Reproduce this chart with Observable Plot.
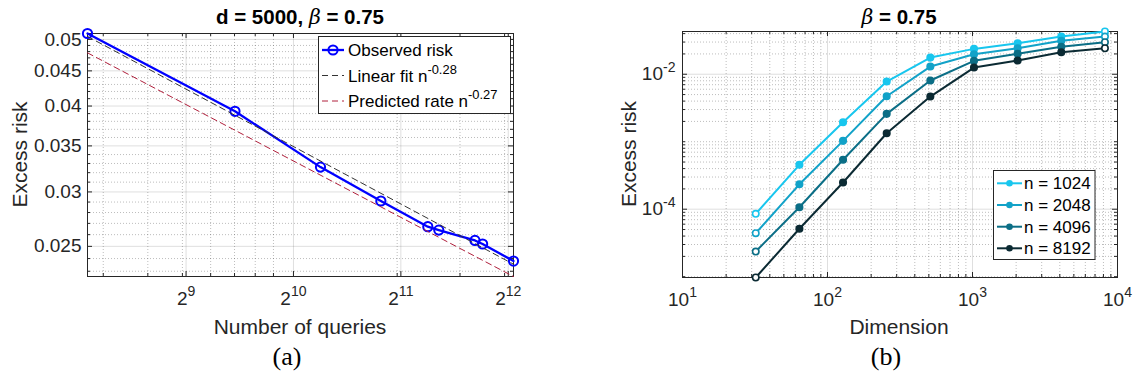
<!DOCTYPE html>
<html><head><meta charset="utf-8">
<script src="https://cdn.jsdelivr.net/npm/d3@7"></script>
<script src="https://cdn.jsdelivr.net/npm/@observablehq/plot@0.6"></script>
<style>
body{margin:0;background:#fff;}
#wrap{position:relative;width:1136px;height:381px;overflow:hidden;font-family:"Liberation Sans",Arial,sans-serif;}
#wrap > svg{position:absolute;top:0;}
#overlay{position:absolute;left:0;top:0;pointer-events:none;}
</style></head>
<body><div id="wrap"></div>
<script>
// ---------- Panel (a) data ----------
const queries = [271, 702, 1219, 1800, 2437, 2616, 3304, 3471, 4237];
const observedRisk = [0.0510, 0.0393, 0.0326, 0.0291, 0.0267, 0.0264, 0.0255, 0.0252, 0.0238];
const fitQueries = [271, 4237];
const linearFitRisk = [0.0505, 0.02355];
const predictedRisk = [0.0478, 0.0226];
const queryTicks = [512, 1024, 2048, 4096];
const queryTickLabels = ["2^9", "2^10", "2^11", "2^12"];
const queryMinorTicks = [300, 400, 500, 600, 700, 800, 900, 2000, 3000, 4000];
const riskTicks = [0.025, 0.03, 0.035, 0.04, 0.045, 0.05];
const riskTickLabels = ["0.025", "0.03", "0.035", "0.04", "0.045", "0.05"];

// ---------- Panel (b) data ----------
const dims = [32, 64, 128, 256, 512, 1024, 2048, 4096, 8192];
const nValues = [1024, 2048, 4096, 8192];
const risk1024 = [8.55e-5, 4.55e-4, 1.945e-3, 7.8e-3, 0.01766, 0.02376, 0.02877, 0.0362, 0.0430];
const risk2048 = [4.41e-5, 2.34e-4, 1.03e-3, 4.72e-3, 0.0130, 0.01977, 0.02427, 0.03126, 0.0362];
const risk4096 = [2.36e-5, 1.07e-4, 5.40e-4, 2.59e-3, 8.07e-3, 0.0158, 0.02005, 0.02547, 0.02978];
const risk8192 = [9.73e-6, 5.13e-5, 2.49e-4, 1.337e-3, 4.67e-3, 0.01256, 0.01596, 0.0212, 0.02426];
const seriesColors = ["#18c6ee", "#12a2c8", "#0b6e86", "#0b2a33"];
const dimTicks = [10, 100, 1000, 10000];
const dimTickLabels = ["10^1", "10^2", "10^3", "10^4"];
const excessTicks = [1e-4, 1e-2];
const excessTickLabels = ["10^-4", "10^-2"];

const frameColor = "#262626";
const ns = "http://www.w3.org/2000/svg";

function labeler(ticks, labels) {
  return d => {
    const i = ticks.findIndex(t => Math.abs(t - d) / t < 1e-6);
    return i < 0 ? "" : labels[i];
  };
}

function superscriptTicks(svg) {
  svg.querySelectorAll('g[aria-label$="tick label"] text').forEach(t => {
    const s = t.textContent; const k = s.indexOf("^");
    if (k < 0) return;
    t.textContent = "";
    const a = document.createElementNS(ns, "tspan"); a.textContent = s.slice(0, k);
    const b = document.createElementNS(ns, "tspan"); b.textContent = s.slice(k + 1);
    b.setAttribute("font-size", "0.74em"); b.setAttribute("dy", "-0.62em");
    t.append(a, b);
  });
}

function tickMarks(xMajor, xMinor, yMajor, yMinor, innerW, innerH) {
  const st = {stroke: frameColor, strokeWidth: 1};
  return [
    Plot.ruleX(xMajor, {x: d => d, insetTop: innerH - 5, ...st}),
    Plot.ruleX(xMajor, {x: d => d, insetBottom: innerH - 5, ...st}),
    Plot.ruleX(xMinor, {x: d => d, insetTop: innerH - 3, ...st}),
    Plot.ruleX(xMinor, {x: d => d, insetBottom: innerH - 3, ...st}),
    Plot.ruleY(yMajor, {y: d => d, insetRight: innerW - 5, ...st}),
    Plot.ruleY(yMajor, {y: d => d, insetLeft: innerW - 5, ...st}),
    Plot.ruleY(yMinor, {y: d => d, insetRight: innerW - 3, ...st}),
    Plot.ruleY(yMinor, {y: d => d, insetLeft: innerW - 3, ...st})
  ];
}

const wrap = document.getElementById("wrap");

// ---------- Panel (a) ----------
{
  const W = 568, H = 381, mL = 87, mR = 55, mT = 33, mB = 105;
  const innerW = W - mL - mR, innerH = H - mT - mB;
  const obs = queries.map((q, i) => ({q, r: observedRisk[i]}));
  const fit = fitQueries.map((q, i) => ({q, r: linearFitRisk[i]}));
  const pred = fitQueries.map((q, i) => ({q, r: predictedRisk[i]}));
  const allR = [...observedRisk, ...linearFitRisk, ...predictedRisk];
  const yDom = d3.extent(allR);
  const riskMinor = d3.range(20, 56).map(v => v / 1000).filter(v => v >= yDom[0] && v <= yDom[1] && !riskTicks.some(t => Math.abs(t - v) < 1e-9));
  const riskLabel = labeler(riskTicks, riskTickLabels);
  const p = Plot.plot({
    width: W, height: H, marginLeft: mL, marginRight: mR, marginTop: mT, marginBottom: mB,
    style: {fontFamily: "Liberation Sans, Arial, sans-serif", color: frameColor, background: "transparent"},
    x: {type: "log", base: 2, domain: d3.extent(queries), label: null},
    y: {type: "log", domain: yDom, label: null, axis: null},
    marks: [
      Plot.gridX(queryMinorTicks, {stroke: "#262626", strokeOpacity: 0.3, strokeDasharray: "1,2"}),
      Plot.gridY(riskMinor, {stroke: "#262626", strokeOpacity: 0.3, strokeDasharray: "1,2"}),
      Plot.gridX(queryTicks, {stroke: "#262626", strokeOpacity: 0.15}),
      Plot.gridY(riskTicks, {stroke: "#262626", strokeOpacity: 0.15}),
      Plot.axisX(queryTicks, {anchor: "bottom", label: null, tickSize: 0, tickPadding: 15, fontSize: 19, tickFormat: labeler(queryTicks, queryTickLabels)}),
      Plot.text(riskTicks, {y: d => d, text: d => riskLabel(d), frameAnchor: "left", textAnchor: "end", dx: -6, fontSize: 19, fill: frameColor}),
      ...tickMarks(queryTicks, queryMinorTicks, riskTicks, riskMinor, innerW, innerH),
      Plot.frame({stroke: frameColor}),
      Plot.line(obs, {x: "q", y: "r", stroke: "#0000ff", strokeWidth: 2.3}),
      Plot.dot(obs, {x: "q", y: "r", r: 4.6, stroke: "#0000ff", strokeWidth: 2, fill: "none"}),
      Plot.line(fit, {x: "q", y: "r", stroke: "#333", strokeWidth: 1, strokeDasharray: "6,4"}),
      Plot.line(pred, {x: "q", y: "r", stroke: "#b0203c", strokeWidth: 1, strokeDasharray: "6,4"})
    ]
  });
  superscriptTicks(p);
  p.style.left = "0px";
  wrap.appendChild(p);
}

// ---------- Panel (b) ----------
const seriesRisks = [risk1024, risk2048, risk4096, risk8192];
{
  const W = 568, H = 381, mL = 114, mR = 19, mT = 31, mB = 104;
  const innerW = W - mL - mR, innerH = H - mT - mB;
  const rows = [];
  nValues.forEach((n, s) => dims.forEach((d, i) => rows.push({n: `n = ${n}`, s, d, r: seriesRisks[s][i], i})));
  const yDom = d3.extent(rows, r => r.r);
  const xMinor = [];
  [10, 100, 1000].forEach(b => { for (let m = 2; m <= 9; m++) xMinor.push(m * b); });
  const yMinor = [];
  for (let e = -6; e <= -1; e++) for (let m = 1; m <= 9; m++) {
    const v = m * Math.pow(10, e);
    if (v >= yDom[0] && v <= yDom[1] && !excessTicks.some(t => Math.abs(t - v) / t < 1e-9)) yMinor.push(v);
  }
  const color = {domain: nValues.map(n => `n = ${n}`), range: seriesColors};
  const p = Plot.plot({
    width: W, height: H, marginLeft: mL, marginRight: mR, marginTop: mT, marginBottom: mB,
    style: {fontFamily: "Liberation Sans, Arial, sans-serif", color: frameColor, background: "transparent"},
    x: {type: "log", domain: [10, 10000], label: null},
    y: {type: "log", domain: yDom, label: null},
    color,
    marks: [
      Plot.gridX(xMinor, {stroke: "#262626", strokeOpacity: 0.3, strokeDasharray: "1,2"}),
      Plot.gridY(yMinor, {stroke: "#262626", strokeOpacity: 0.3, strokeDasharray: "1,2"}),
      Plot.gridX(dimTicks, {stroke: "#262626", strokeOpacity: 0.15}),
      Plot.gridY(excessTicks, {stroke: "#262626", strokeOpacity: 0.15}),
      Plot.axisX(dimTicks, {anchor: "bottom", label: null, tickSize: 0, tickPadding: 15, fontSize: 19, tickFormat: labeler(dimTicks, dimTickLabels)}),
      Plot.axisY(excessTicks, {anchor: "left", label: null, tickSize: 0, tickPadding: 7, fontSize: 19, tickFormat: labeler(excessTicks, excessTickLabels)}),
      ...tickMarks(dimTicks, xMinor, excessTicks, yMinor, innerW, innerH),
      Plot.frame({stroke: frameColor}),
      Plot.line(rows, {x: "d", y: "r", z: "n", stroke: "n", strokeWidth: 2}),
      Plot.dot(rows.filter(r => r.i > 0 && r.i < dims.length - 1), {x: "d", y: "r", fill: "n", stroke: "n", r: 3.3}),
      Plot.dot(rows.filter(r => r.i === 0 || r.i === dims.length - 1), {x: "d", y: "r", fill: "#ffffff", stroke: "n", strokeWidth: 1.6, r: 3.2})
    ]
  });
  superscriptTicks(p);
  p.style.left = "568px";
  wrap.appendChild(p);
}

// ---------- Text, titles, legends overlay ----------
const ov = d3.select(wrap).append("svg").attr("id", "overlay").attr("width", 1136).attr("height", 381)
  .attr("font-family", "Liberation Sans, Arial, sans-serif");

function txt(x, yc, size, content, opts = {}) {
  const t = ov.append("text").attr("x", x).attr("y", yc + 0.36 * size).attr("font-size", size)
    .attr("text-anchor", opts.anchor || "middle").attr("fill", opts.fill || "#000");
  if (content) t.text(content);
  if (opts.bold) t.attr("font-weight", "bold");
  if (opts.family) t.attr("font-family", opts.family);
  if (opts.rotate) t.attr("transform", `rotate(-90 ${x} ${yc})`);
  return t;
}

// titles
{
  const t = txt(300, 17, 20.5, "", {bold: true});
  t.append("tspan").text("d = 5000, ");
  t.append("tspan").attr("font-family", "DejaVu Serif, serif").attr("font-style", "italic").attr("font-weight", "normal").text("β");
  t.append("tspan").text(" = 0.75");
  const t2 = txt(899, 17, 20.5, "", {bold: true});
  t2.append("tspan").attr("font-family", "DejaVu Serif, serif").attr("font-style", "italic").attr("font-weight", "normal").text("β");
  t2.append("tspan").text(" = 0.75");
}
// axis labels
txt(19, 154.5, 21, "Excess risk", {rotate: true, fill: frameColor});
txt(628, 154, 21, "Excess risk", {rotate: true, fill: frameColor});
txt(300, 326, 21, "Number of queries", {fill: frameColor});
txt(899, 326, 21, "Dimension", {fill: frameColor});
// captions
txt(287, 356, 26, "(a)", {family: "Liberation Serif, serif"});
txt(886, 356, 26, "(b)", {family: "Liberation Serif, serif"});

// legend (a)
{
  ov.append("rect").attr("x", 318.5).attr("y", 36.5).attr("width", 192).attr("height", 77)
    .attr("fill", "#fff").attr("stroke", frameColor);
  const rowsY = [50, 75.5, 101];
  ov.append("line").attr("x1", 322).attr("x2", 344).attr("y1", rowsY[0]).attr("y2", rowsY[0]).attr("stroke", "#0000ff").attr("stroke-width", 2.3);
  ov.append("circle").attr("cx", 333).attr("cy", rowsY[0]).attr("r", 4.6).attr("fill", "none").attr("stroke", "#0000ff").attr("stroke-width", 2);
  ov.append("line").attr("x1", 322).attr("x2", 344).attr("y1", rowsY[1]).attr("y2", rowsY[1]).attr("stroke", "#333").attr("stroke-dasharray", "6,4");
  ov.append("line").attr("x1", 322).attr("x2", 344).attr("y1", rowsY[2]).attr("y2", rowsY[2]).attr("stroke", "#b0203c").attr("stroke-dasharray", "6,4");
  txt(348, rowsY[0], 17, "Observed risk", {anchor: "start"});
  const a = txt(348, rowsY[1], 17, "Linear fit n", {anchor: "start"});
  a.append("tspan").attr("font-size", "0.76em").attr("dy", "-0.6em").text("-0.28");
  const b = txt(348, rowsY[2], 17, "Predicted rate n", {anchor: "start"});
  b.append("tspan").attr("font-size", "0.76em").attr("dy", "-0.6em").text("-0.27");
}
// legend (b)
{
  ov.append("rect").attr("x", 993.5).attr("y", 170.5).attr("width", 101.5).attr("height", 89)
    .attr("fill", "#fff").attr("stroke", frameColor);
  const rowsY = [183.3, 205, 226.7, 248.3];
  nValues.forEach((n, s) => {
    ov.append("line").attr("x1", 997).attr("x2", 1022).attr("y1", rowsY[s]).attr("y2", rowsY[s]).attr("stroke", seriesColors[s]).attr("stroke-width", 2);
    ov.append("circle").attr("cx", 1009.5).attr("cy", rowsY[s]).attr("r", 3.3).attr("fill", seriesColors[s]);
    txt(1024, rowsY[s], 17, `n = ${n}`, {anchor: "start"});
  });
}
</script>
</body></html>
